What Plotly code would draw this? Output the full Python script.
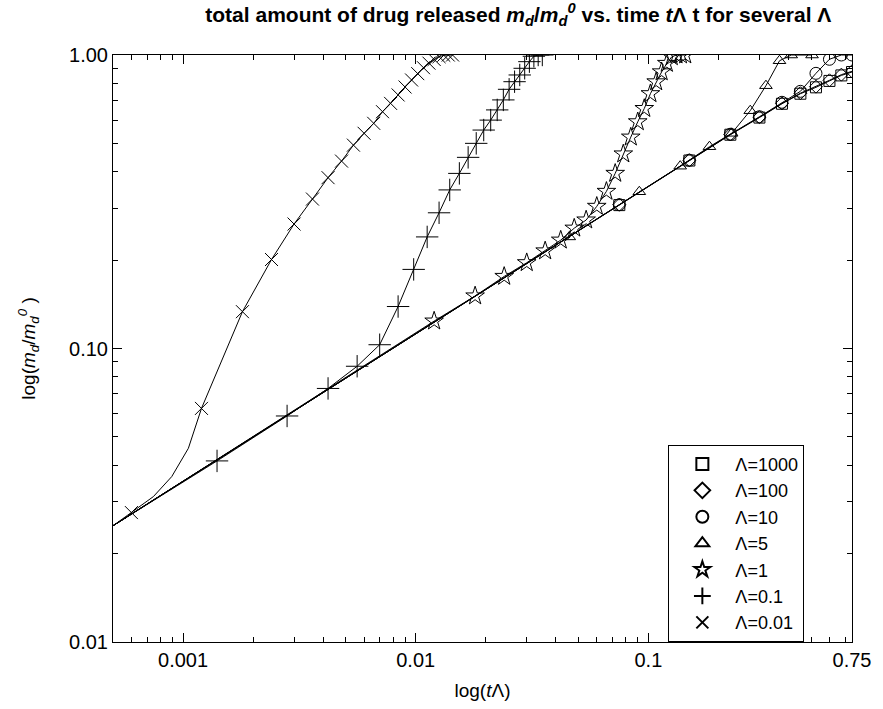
import plotly.graph_objects as go

# ---------------- data ----------------
# common starting point of every curve at the left edge of the axes
t_start = [0.0005]
m_start = [0.0249]

# Lambda = 1000 (squares)
t_1000 = [0.075, 0.15, 0.225, 0.3, 0.375, 0.45, 0.525, 0.6, 0.675, 0.75]
m_1000 = [0.308, 0.437, 0.535, 0.612, 0.682, 0.738, 0.776, 0.816, 0.852, 0.875]

# Lambda = 100 (diamonds)
t_100 = [0.075, 0.15, 0.225, 0.3, 0.375, 0.45, 0.525, 0.6, 0.675, 0.75]
m_100 = [0.309, 0.438, 0.536, 0.614, 0.684, 0.741, 0.780, 0.820, 0.857, 0.880]

# Lambda = 10 (circles)
t_10 = [0.075, 0.15, 0.225, 0.3, 0.375, 0.45, 0.525, 0.6, 0.675, 0.75]
m_10 = [0.309, 0.438, 0.537, 0.616, 0.690, 0.752, 0.866, 0.967, 1.0, 1.0]

# Lambda = 5 (triangles)
t_5 = [0.0457, 0.0914, 0.137, 0.183, 0.228, 0.274, 0.32, 0.366, 0.411, 0.505]
m_5 = [0.240, 0.342, 0.418, 0.487, 0.541, 0.646, 0.786, 0.956, 1.0, 1.0]

# Lambda = 1 (stars)
t_1 = [0.012, 0.018, 0.024, 0.030, 0.036, 0.042, 0.048, 0.054, 0.060, 0.066,
       0.072, 0.078, 0.084, 0.090, 0.096, 0.102, 0.108, 0.114, 0.120, 0.126,
       0.132, 0.138, 0.144]
m_1 = [0.124, 0.151, 0.176, 0.196, 0.215, 0.234, 0.257, 0.274, 0.305, 0.343,
       0.395, 0.460, 0.525, 0.592, 0.657, 0.738, 0.810, 0.876, 0.936, 0.986,
       1.0, 1.0, 1.0]

# Lambda = 0.1 (plus)
t_01 = [0.0014, 0.0028, 0.0042, 0.0056, 0.0070, 0.0084, 0.0098, 0.0112, 0.0126,
        0.0140, 0.0154, 0.0168, 0.0182, 0.0196, 0.0210, 0.0224, 0.0238, 0.0252,
        0.0266, 0.0280, 0.0294, 0.0308, 0.0322, 0.0336, 0.0350]
m_01 = [0.0414, 0.0589, 0.0731, 0.087, 0.103, 0.139, 0.186, 0.240, 0.290,
        0.347, 0.395, 0.448, 0.500, 0.555, 0.600, 0.650, 0.703, 0.764,
        0.811, 0.855, 0.901, 0.949, 0.990, 1.0, 1.0]

# Lambda = 0.01 (x)
t_001 = [0.0006, 0.0012, 0.0018, 0.0024, 0.0030, 0.0036, 0.0042, 0.0048,
         0.0054, 0.0060, 0.0066, 0.0072, 0.0078, 0.0084, 0.0090, 0.0096,
         0.0102, 0.0108, 0.0114, 0.0120, 0.0126, 0.0132, 0.0138, 0.0144]
m_001 = [0.0276, 0.0625, 0.1335, 0.201, 0.2655, 0.323, 0.382, 0.435,
         0.493, 0.541, 0.585, 0.641, 0.684, 0.731, 0.778, 0.822,
         0.864, 0.905, 0.938, 0.966, 0.987, 0.998, 1.0, 1.0]
# extra line-only points of the Lambda = 0.01 curve (between markers)
t_001_extra = [0.000746, 0.000894, 0.001054]
m_001_extra = [0.0313, 0.0366, 0.0457]

labels = ["Λ=1000", "Λ=100", "Λ=10", "Λ=5", "Λ=1", "Λ=0.1", "Λ=0.01"]
x_tickvals = [0.001, 0.01, 0.1, 0.75]
x_ticktext = ["0.001", "0.01", "0.1", "0.75"]
y_tickvals = [0.01, 0.1, 1.0]
y_ticktext = ["0.01", "0.10", "1.00"]

# ---------------- figure ----------------
FONT = "Liberation Sans, Arial, Helvetica, sans-serif"
series = [
    (t_1000, m_1000, [], [], "square-open", 11),
    (t_100, m_100, [], [], "diamond-open", 10),
    (t_10, m_10, [], [], "circle-open", 12),
    (t_5, m_5, [], [], "triangle-up-open", 11),
    (t_1, m_1, [], [], "star-open", 14),
    (t_01, m_01, [], [], "cross-thin-open", 16),
    (t_001, m_001, t_001_extra, m_001_extra, "x-thin-open", 13),
]

fig = go.Figure()
# lines
for (t, m, te, me, sym, sz) in series:
    pts = sorted(zip(t_start + list(t) + list(te), m_start + list(m) + list(me)))
    fig.add_trace(go.Scatter(x=[p[0] for p in pts], y=[p[1] for p in pts],
                             mode="lines", line=dict(color="black", width=1),
                             showlegend=False, hoverinfo="skip"))
# markers
for (t, m, te, me, sym, sz), lab in zip(series, labels):
    fig.add_trace(go.Scatter(x=t, y=m, mode="markers", name=lab,
                             marker=dict(symbol=sym, size=sz, color="black",
                                         line=dict(color="black", width=1))))

fig.update_layout(
    width=883, height=709,
    margin=dict(l=113, r=26, t=55, b=67),
    paper_bgcolor="white", plot_bgcolor="white",
    font=dict(family=FONT, size=20, color="black"),
    title=dict(
        text="<b>total amount of drug released <i>m<sub>d</sub></i>/<i>m<sub>d</sub><sup>0</sup></i>"
             " vs. time <i>t</i>Λ t for several Λ</b>",
        x=0.587, xanchor="center", y=0.99, yanchor="top",
        font=dict(family=FONT, size=21, color="black")),
    showlegend=True,
    legend=dict(x=0.7515, y=0.336, xanchor="left", yanchor="top",
                bgcolor="white", bordercolor="black", borderwidth=1,
                font=dict(family=FONT, size=18), tracegroupgap=0,
                itemsizing="constant", itemwidth=56),
)
fig.update_xaxes(
    type="log", range=[-3.30103, -0.124939],
    tickvals=x_tickvals, ticktext=x_ticktext,
    ticks="inside", ticklen=9, tickwidth=1, tickcolor="black",
    minor=dict(ticks="inside", ticklen=5, tickwidth=1, tickcolor="black", dtick="D1", showgrid=False),
    showline=True, linecolor="black", linewidth=1, mirror="ticks",
    showgrid=False, zeroline=False,
    tickfont=dict(family=FONT, size=20),
    title=dict(text="log(<i>t</i>Λ)", font=dict(family=FONT, size=19), standoff=13),
)
fig.update_yaxes(
    type="log", range=[-2, 0],
    tickvals=y_tickvals, ticktext=y_ticktext,
    ticks="inside", ticklen=9, tickwidth=1, tickcolor="black",
    minor=dict(ticks="inside", ticklen=5, tickwidth=1, tickcolor="black", dtick="D1", showgrid=False),
    showline=True, linecolor="black", linewidth=1, mirror="ticks",
    showgrid=False, zeroline=False,
    tickfont=dict(family=FONT, size=20),
    title=dict(text="log(<i>m<sub>d</sub></i>/<i>m<sub>d</sub><sup>0</sup></i> )",
               font=dict(family=FONT, size=19), standoff=28),
)

fig.write_html("out.html", config={"displayModeBar": False},
               post_script="document.body.style.margin='0';")
